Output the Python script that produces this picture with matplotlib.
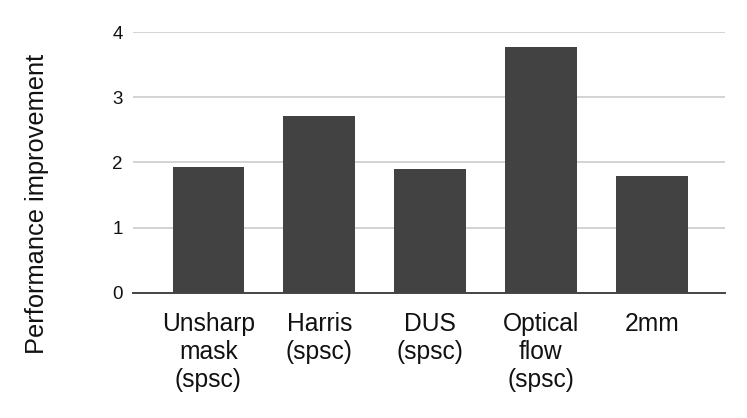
import numpy as np
import matplotlib.pyplot as plt

plt.rcParams['font.family'] = ['Liberation Sans', 'DejaVu Sans']

categories = ['Unsharp\nmask\n(spsc)', 'Harris\n(spsc)', 'DUS\n(spsc)', 'Optical\nflow\n(spsc)', '2mm']
values = [1.93, 2.71, 1.90, 3.77, 1.79]

fig = plt.figure(figsize=(7.47, 4.18), dpi=100)
ax = fig.add_axes([0.178, 0.2998, 0.7925, 0.6236])

x = np.arange(len(categories))
ax.bar(x, values, width=0.645, color='#424242', zorder=3)

ax.set_xlim(-0.68, 4.66)
ax.set_ylim(0, 4)
ax.set_yticks([0, 1, 2, 3, 4])
ax.yaxis.grid(True, color='#cccccc', linewidth=1.2, zorder=0)
ax.set_xticks(x)
ax.set_xticklabels(categories, fontsize=17.7, linespacing=1.2, color='#111111')
ax.tick_params(axis='y', labelsize=13.5, length=0, pad=7.5, labelcolor='#111111')
ax.tick_params(axis='x', length=0, pad=14)

for s in ['top', 'right', 'left']:
    ax.spines[s].set_visible(False)
ax.spines['bottom'].set_color('#444444')
ax.spines['bottom'].set_linewidth(1.4)
ax.spines['bottom'].set_zorder(4)

fig.text(0.05, 1 - 204 / 418, 'Performance improvement', rotation=90,
         fontsize=18.3, ha='center', va='center', color='#111111')

fig.savefig('out.png', dpi=100)
